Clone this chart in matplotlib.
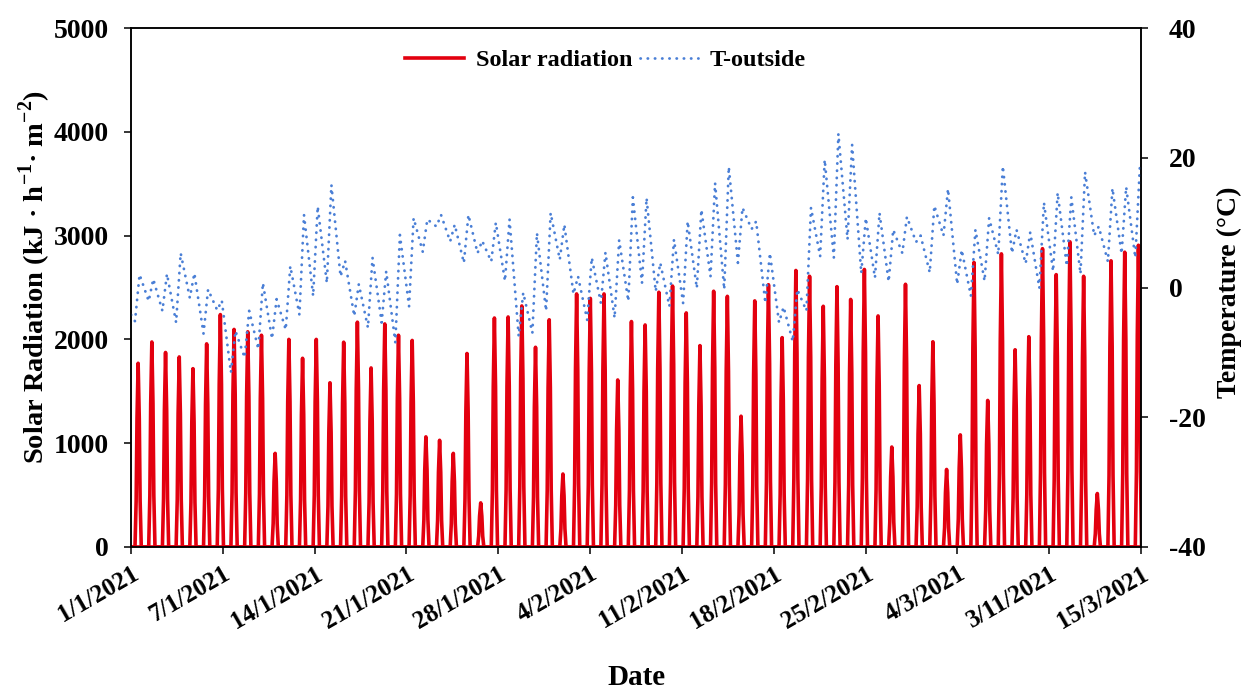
import numpy as np
import matplotlib.pyplot as plt

plt.rcParams['font.family'] = ['Liberation Serif', 'DejaVu Serif']
plt.rcParams['font.weight'] = 'bold'
plt.rcParams['axes.labelweight'] = 'bold'
plt.rcParams['axes.unicode_minus'] = False
plt.rcParams['mathtext.fontset'] = 'custom'
plt.rcParams['mathtext.rm'] = 'Liberation Serif:bold'
plt.rcParams['mathtext.bf'] = 'Liberation Serif:bold'
plt.rcParams['axes.linewidth'] = 1.1

date_labels = ['1/1/2021', '7/1/2021', '14/1/2021', '21/1/2021', '28/1/2021', '4/2/2021',
               '11/2/2021', '18/2/2021', '25/2/2021', '4/3/2021', '3/11/2021', '15/3/2021']

# noon peak of solar radiation for each day (kJ/h/m2), 1 Jan .. 15 Mar
solar_peak = [1770, 1975, 1874, 1831, 1718, 1957, 2239, 2096, 2073, 2040,
              902, 2000, 1818, 2000, 1582, 1973, 2166, 1725, 2149, 2040,
              1990, 1061, 1028, 902, 1864, 425, 2206, 2216, 2322, 1924,
              2189, 703, 2438, 2395, 2438, 1609, 2172, 2139, 2454, 2514,
              2255, 1940, 2464, 2415, 1260, 2371, 2527, 2017, 2664, 2608,
              2319, 2508, 2385, 2674, 2226, 963, 2531, 1555, 1977, 747,
              1080, 2741, 1412, 2824, 1900, 2026, 2874, 2624, 2940, 2608,
              515, 2757, 2840, 2907]

# morning minimum and afternoon maximum of outside temperature (degC)
t_min = [-5.2, -2.1, -3.6, -5.4, -1.6, -7.1, -3.5, -13.1, -10.8, -9.5,
         -7.9, -6.5, -4.2, -1.3, 0.7, 1.7, -4.4, -6.2, -5.4, -8.5,
         -2.9, 5.5, 9.4, 7.1, 3.8, 5.3, 4.0, 1.0, -7.5, -7.0,
         -3.6, 4.3, -1.0, -5.0, -2.4, -4.7, -2.1, 0.7, -0.6, -2.9,
         -2.4, -0.1, 1.7, -0.3, 3.8, 9.0, -2.4, -5.4, -8.3, -3.6,
         4.8, 4.6, 7.4, 2.2, 1.5, 0.9, 5.3, 7.0, 2.3, 8.0,
         0.5, -1.3, 1.0, 5.1, 5.3, 3.7, -0.1, 2.5, 3.3, 2.1,
         8.0, 4.0, 5.2, 4.6]
t_max = [2.0, 1.3, 2.1, 5.3, 2.2, -0.3, -2.0, -6.7, -3.6, 0.7,
         -1.8, 3.3, 11.2, 12.5, 15.8, 4.1, 0.5, 4.6, 2.5, 8.1,
         10.7, 10.5, 11.2, 9.7, 11.2, 7.2, 10.0, 10.5, -0.8, 8.4,
         11.5, 9.7, 1.7, 4.6, 5.4, 7.3, 13.9, 13.8, 3.8, 7.4,
         10.2, 12.0, 16.1, 18.6, 12.3, 10.2, 5.3, -3.0, -0.3, 12.3,
         19.7, 23.7, 22.0, 10.7, 11.5, 8.9, 10.9, 8.0, 12.6, 15.2,
         5.8, 8.9, 10.7, 18.7, 8.9, 8.5, 13.1, 14.6, 13.9, 17.8,
         9.4, 15.3, 15.5, 18.6]
t_first = -4.2  # midnight, 1 Jan

# shape of a day's radiation curve: hour of day and share of the noon peak
sun_hours = [7, 9, 10.5, 12.5, 14.5, 16, 18]
sun_share = [0, 0.25, 0.7, 1, 0.7, 0.25, 0]
t_min_hour, t_max_hour = 7, 15
last_hour = 17

n_days = len(solar_peak)
sol_x, sol_y = [0.0], [0.0]
for d, peak in enumerate(solar_peak):
    for h, s in zip(sun_hours, sun_share):
        sol_x.append(d + h / 24)
        sol_y.append(peak * s)

t_x, t_y = [0.0], [t_first]
for d, (lo, hi) in enumerate(zip(t_min, t_max)):
    t_x += [d + t_min_hour / 24, d + t_max_hour / 24]
    t_y += [lo, hi]

x_end = n_days - 1 + last_hour / 24

fig = plt.figure(figsize=(12.44, 6.89), dpi=100)
ax = fig.add_axes([131 / 1244, 1 - 547 / 689, 1010 / 1244, 519 / 689])
ax.plot([0, x_end], [0, 0], color='#e3000f', lw=2.6)
l1, = ax.plot(sol_x, sol_y, color='#e3000f', lw=2.6, label='Solar radiation')
ax.set_xlim(0, x_end)
ax.set_ylim(0, 5000)
ax.set_yticks(range(0, 5001, 1000))
ax.set_xticks(np.linspace(0, x_end, len(date_labels)))
ax.set_xticklabels(date_labels, rotation=30, ha='right', rotation_mode='anchor')
ax.tick_params(axis='y', labelsize=20, length=5, width=1.1, pad=11)
ax.tick_params(axis='x', labelsize=18, length=5, width=1.1, pad=6)
ax.set_ylabel('Solar Radiation (kJ · h$^{\\mathregular{-1}}$· m$^{\\mathregular{-2}}$)', fontsize=20.5)
ax.yaxis.set_label_coords(-0.077, 0.52)
ax.set_xlabel('Date', fontsize=21)
ax.xaxis.set_label_coords(0.5, -0.225)

ax2 = ax.twinx()
l2, = ax2.plot(t_x, t_y, color='#4a7fd6', lw=2.0, ls=(0, (0.1, 2.5)),
               dash_capstyle='round', label='T-outside')
ax2.set_ylim(-40, 40)
ax2.set_yticks(range(-40, 41, 20))
ax2.tick_params(axis='y', labelsize=20, length=5, width=1.1, pad=15)
ax2.set_ylabel('Temperature (°C)', fontsize=20)
ax2.yaxis.set_label_coords(1.075, 0.49)

ax2.legend([l1, l2], ['Solar radiation', 'T-outside'], loc='center', bbox_to_anchor=(0.47, 0.938),
           ncol=2, frameon=False, fontsize=17.5, handlelength=2.4, handletextpad=0.5,
           columnspacing=0.3)

fig.savefig('out.png', dpi=100)
